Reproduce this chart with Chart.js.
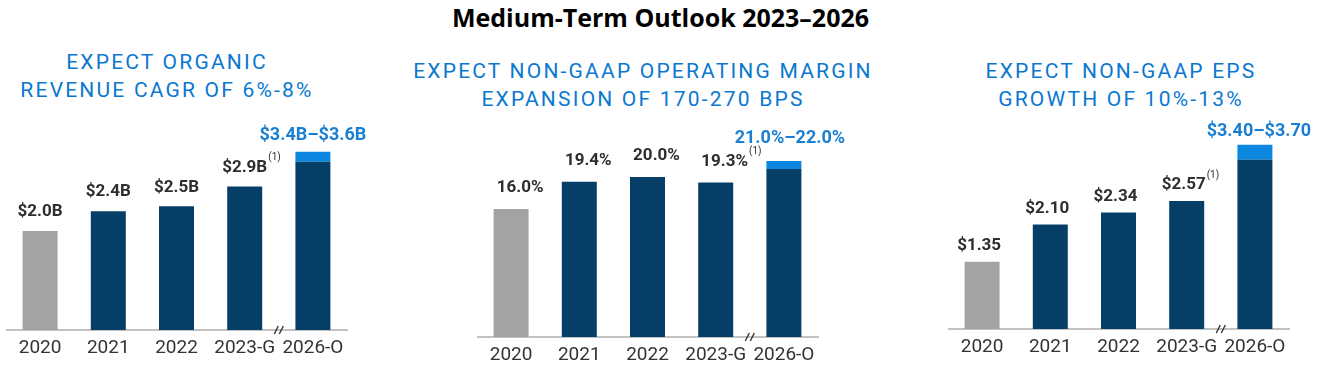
<!DOCTYPE html>
<html>
<head>
<meta charset="utf-8">
<script src="https://cdn.jsdelivr.net/npm/chart.js@4.4.1/dist/chart.umd.min.js"></script>
<style>
  html, body { margin: 0; padding: 0; background: #ffffff; }
  body { width: 1321px; height: 368px; position: relative; overflow: hidden; }
  #mainTitle { position: absolute; left: 0; width: 1321px; top: 1px; text-align: center;
    font-family: "Open Sans", sans-serif; font-weight: 700; font-size: 25px; color: #000; line-height: 32px; }
  .ptitle { position: absolute; width: 560px; text-align: center; font-family: Roboto, sans-serif;
    font-weight: 400; font-size: 21px; letter-spacing: 2.2px; color: #0a78d0; line-height: 28px; }
  canvas { position: absolute; }
</style>
</head>
<body>
<div id="mainTitle">Medium-Term Outlook 2023–2026</div>
<div class="ptitle" style="left:-113px; top:48px;">EXPECT ORGANIC<br>REVENUE CAGR OF 6%-8%</div>
<div class="ptitle" style="left:363px; top:57px;">EXPECT NON-GAAP OPERATING MARGIN<br>EXPANSION OF 170-270 BPS</div>
<div class="ptitle" style="left:841px; top:57px;">EXPECT NON-GAAP EPS<br>GROWTH OF 10%-13%</div>
<div style="position:absolute;left:6px;top:100px;width:411px;height:266px"><canvas id="c1"></canvas></div>
<div style="position:absolute;left:477px;top:100px;width:411px;height:273px"><canvas id="c2"></canvas></div>
<div style="position:absolute;left:948px;top:100px;width:373px;height:265px"><canvas id="c3"></canvas></div>
<script>
// ---- data ----
const categories = ['2020', '2021', '2022', '2023-G', '2026-O'];

const revenueValues = [2.0, 2.4, 2.5, 2.9, 3.4];
const revenueHigh = 3.6;
const revenueLabels = ['$2.0B', '$2.4B', '$2.5B', '$2.9B', '$3.4B–$3.6B'];

const marginValues = [16.0, 19.4, 20.0, 19.3, 21.0];
const marginHigh = 22.0;
const marginLabels = ['16.0%', '19.4%', '20.0%', '19.3%', '21.0%–22.0%'];

const epsValues = [1.35, 2.10, 2.34, 2.57, 3.40];
const epsHigh = 3.70;
const epsLabels = ['$1.35', '$2.10', '$2.34', '$2.57', '$3.40–$3.70'];

const footnoteIndex = 3;
const footnoteText = '(1)';

// ---- styles ----
const GRAY = '#a3a3a3', NAVY = '#053f67', LIGHT = '#0b87e0', LABEL = '#2e2e2e', RANGE_LABEL = '#1a7fd3';
const AXIS_H = 36;
const PLOT_W = 341;

function makeChart(id, values, high, labels, opt) {
  const canvas = document.getElementById(id);
  const box = canvas.parentElement;
  const h = box.clientHeight;
  const padRight = box.clientWidth - PLOT_W;
  const areaH = h - AXIS_H;
  const yMax = areaH / opt.pxPerUnit;
  const n = values.length;
  const base = values.slice();
  const range = values.map((v, i) => (i === n - 1 ? +(high - v).toFixed(4) : 0));
  const colors = values.map((v, i) => (i === 0 ? GRAY : NAVY));

  const labelPlugin = {
    id: 'valueLabels',
    afterDatasetsDraw(chart) {
      const ctx = chart.ctx;
      const xs = chart.scales.x, ys = chart.scales.y;
      ctx.save();
      ctx.textAlign = 'center';
      ctx.textBaseline = 'middle';
      for (let i = 0; i < n; i++) {
        const top = ys.getPixelForValue(base[i] + range[i]);
        const x = xs.getPixelForValue(i);
        const isRange = i === n - 1;
        ctx.font = isRange ? '700 18px Roboto' : '700 17px Roboto';
        ctx.fillStyle = isRange ? RANGE_LABEL : LABEL;
        const dx = isRange ? opt.rangeDx : opt.dx;
        const y = top - (isRange ? opt.rangeOff : opt.off);
        ctx.fillText(labels[i], x + dx, y);
        if (i === footnoteIndex) {
          const w = ctx.measureText(labels[i]).width;
          ctx.font = '400 10px Roboto';
          ctx.fillStyle = LABEL;
          ctx.textAlign = 'left';
          ctx.fillText(footnoteText, x + dx + w / 2 + 1, y - 10);
          ctx.textAlign = 'center';
        }
      }
      // axis break mark between last two categories
      const bx = (xs.getPixelForValue(n - 2) + xs.getPixelForValue(n - 1)) / 2;
      const by = ys.getPixelForValue(0);
      ctx.strokeStyle = '#333';
      ctx.lineWidth = 1.4;
      ctx.beginPath();
      for (const off of [-2.5, 2.5]) {
        ctx.moveTo(bx + off - 2, by + 4);
        ctx.lineTo(bx + off + 2, by - 4);
      }
      ctx.stroke();
      ctx.restore();
    }
  };

  return new Chart(canvas, {
    type: 'bar',
    data: {
      labels: categories,
      datasets: [
        { data: base, backgroundColor: colors, borderWidth: 0 },
        { data: range, backgroundColor: LIGHT, borderWidth: 0 }
      ]
    },
    options: {
      responsive: true,
      maintainAspectRatio: false,
      animation: false,
      events: [],
      layout: { padding: { left: 0, top: 0, bottom: 0, right: padRight } },
      datasets: { bar: { categoryPercentage: 1, barPercentage: 0.513 } },
      plugins: { legend: { display: false }, tooltip: { enabled: false } },
      scales: {
        x: {
          stacked: true,
          grid: { display: false, drawTicks: false },
          border: { display: true, color: '#c2c2c2', width: 2 },
          ticks: { color: '#333', font: { family: 'Roboto', size: 19 }, padding: 7, maxRotation: 0, autoSkip: false },
          afterFit: (s) => { s.height = AXIS_H; }
        },
        y: { stacked: true, display: false, min: 0, max: yMax }
      }
    },
    plugins: [labelPlugin]
  });
}

makeChart('c1', revenueValues, revenueHigh, revenueLabels, { pxPerUnit: 49.5, off: 19, rangeOff: 16, dx: 0, rangeDx: 0 });
makeChart('c2', marginValues, marginHigh, marginLabels, { pxPerUnit: 8.0, off: 21, rangeOff: 23, dx: 9, rangeDx: 6 });
makeChart('c3', epsValues, epsHigh, epsLabels, { pxPerUnit: 49.8, off: 16, rangeOff: 13, dx: -3, rangeDx: 4 });
</script>
</body>
</html>
